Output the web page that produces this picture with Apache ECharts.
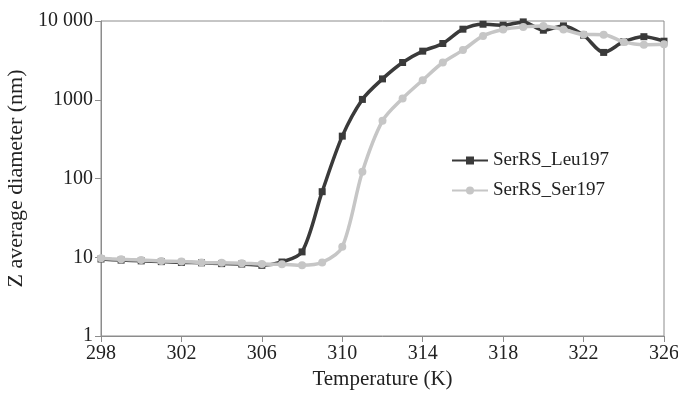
<!DOCTYPE html>
<html>
<head>
<meta charset="utf-8">
<script src="https://cdn.jsdelivr.net/npm/echarts@6/dist/echarts.min.js"></script>
<style>
  html, body { margin: 0; padding: 0; background: #fff; }
  #chart { width: 678px; height: 397px; }
</style>
</head>
<body>
<div id="chart"></div>
<script>
// Temperature (K), one reading per degree
const temperatures = [298, 299, 300, 301, 302, 303, 304, 305, 306, 307, 308, 309, 310, 311, 312,
  313, 314, 315, 316, 317, 318, 319, 320, 321, 322, 323, 324, 325, 326];

// Z average diameter (nm)
const leu197 = [9.5, 9.2, 9.0, 8.8, 8.6, 8.5, 8.3, 8.2, 7.9, 8.7, 11.7, 68, 345, 1010, 1840,
  2970, 4140, 5180, 7870, 9100, 8850, 9740, 7640, 8670, 6610, 3990, 5460, 6320, 5540];
const ser197 = [9.7, 9.4, 9.2, 8.95, 8.8, 8.6, 8.5, 8.4, 8.2, 8.15, 7.9, 8.6, 13.6, 122, 540,
  1040, 1775, 2970, 4270, 6470, 7800, 8420, 8670, 7800, 6750, 6700, 5430, 5000, 5070];

const xTicks = [298, 302, 306, 310, 314, 318, 322, 326];

const font = 'Liberation Serif';
const axisColor = '#8c8c8c';

const chart = echarts.init(document.getElementById('chart'));

const pairs = (vals) => temperatures.map((t, i) => [t, vals[i]]);

chart.setOption({
  animation: false,
  textStyle: { fontFamily: font },
  grid: {
    left: 101, right: 14, top: 21, bottom: 61,
    outerBoundsMode: 'none',
    containLabel: false,
    show: true,
    borderColor: axisColor,
    borderWidth: 1
  },
  legend: {
    orient: 'vertical',
    left: 446,
    top: 146,
    itemWidth: 36,
    itemHeight: 10,
    itemGap: 11,
    textStyle: { fontFamily: font, fontSize: 19, color: '#222' },
    data: ['SerRS_Leu197', 'SerRS_Ser197']
  },
  xAxis: {
    type: 'value',
    min: xTicks[0],
    max: xTicks[xTicks.length - 1],
    interval: 4,
    name: 'Temperature (K)',
    nameLocation: 'middle',
    nameGap: 32,
    nameTextStyle: { fontFamily: font, fontSize: 21, color: '#222' },
    axisLine: { lineStyle: { color: axisColor } },
    axisTick: { show: true, length: 6, lineStyle: { color: axisColor } },
    axisLabel: { fontFamily: font, fontSize: 20, color: '#222', margin: 8 },
    splitLine: { show: false }
  },
  yAxis: {
    type: 'log',
    logBase: 10,
    min: 1,
    max: 10000,
    name: 'Z average diameter (nm)',
    nameLocation: 'middle',
    nameGap: 71,
    nameRotate: 90,
    nameTextStyle: { fontFamily: font, fontSize: 22, color: '#222' },
    axisLine: { show: true, lineStyle: { color: axisColor } },
    axisTick: { show: true, length: 6, lineStyle: { color: axisColor } },
    axisLabel: {
      fontFamily: font, fontSize: 20, color: '#222', margin: 8,
      formatter: (v) => v >= 10000 ? '10 000' : String(v)
    },
    splitLine: { show: false }
  },
  series: [
    {
      name: 'SerRS_Ser197',
      type: 'line',
      data: pairs(ser197),
      smooth: 0.3,
      symbol: 'circle',
      symbolSize: 8,
      lineStyle: { color: '#c6c6c6', width: 3.5 },
      itemStyle: { color: '#c6c6c6' },
      z: 2
    },
    {
      name: 'SerRS_Leu197',
      type: 'line',
      data: pairs(leu197),
      smooth: 0.3,
      symbol: 'rect',
      symbolSize: 7,
      lineStyle: { color: '#3a3a3a', width: 3.5 },
      itemStyle: { color: '#3a3a3a' },
      z: 1
    }
  ]
});
</script>
</body>
</html>
